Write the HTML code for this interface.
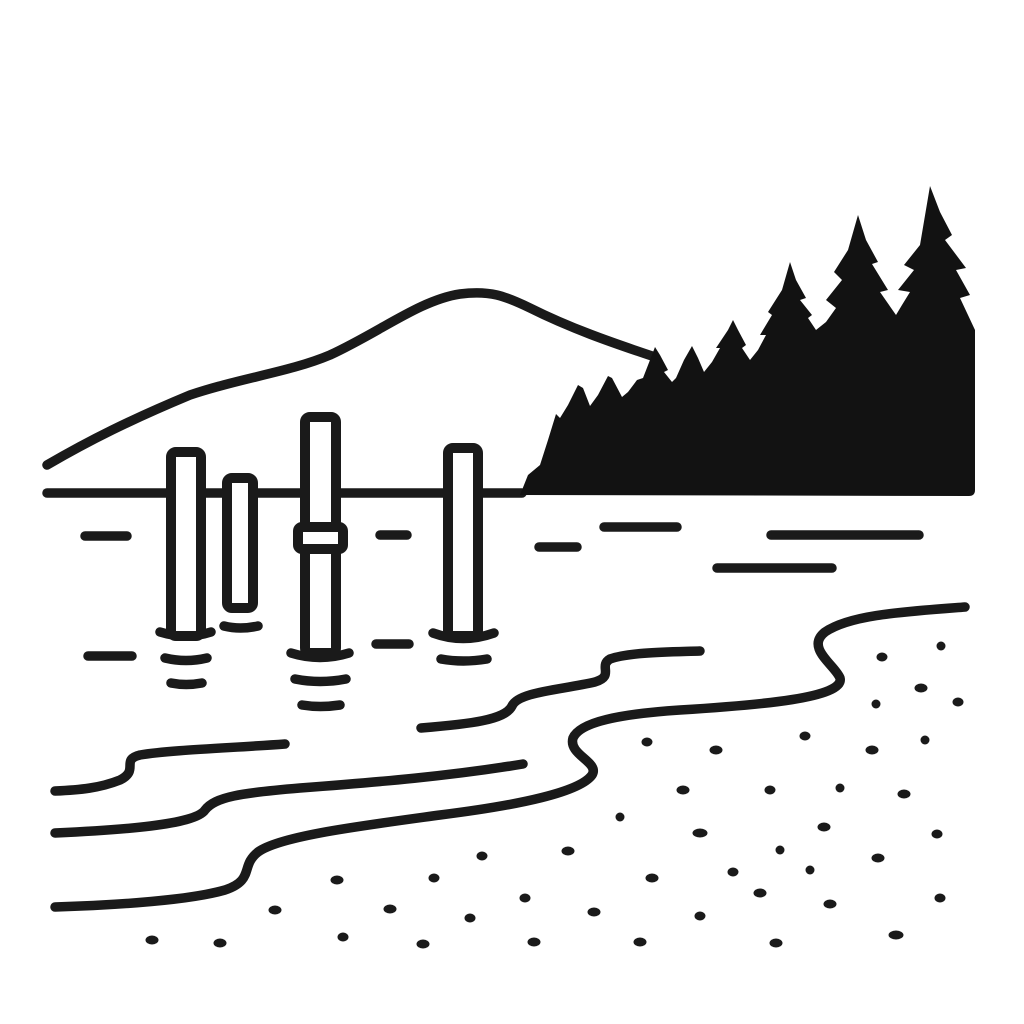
<!DOCTYPE html>
<html><head><meta charset="utf-8"><style>html,body{margin:0;padding:0;background:#fff}svg{display:block}</style></head>
<body>
<svg width="1024" height="1024" viewBox="0 0 1024 1024" xmlns="http://www.w3.org/2000/svg">
<g fill="none" stroke="#1a1a1a" stroke-width="9.5" stroke-linecap="round" stroke-linejoin="round">
<path d="M47,465 C90,440 130,420 190,395 C240,378 290,372 330,355 C380,332 420,300 460,294 C490,290 505,296 530,308 C570,328 610,342 655,357"/>
<path d="M47,493 L522,493"/>
<path d="M85,536 L127,536 M380,535 L407,535 M539,547 L577,547 M604,527 L677,527 M771,535 L919,535 M717,568 L832,568 M88,656 L132,656 M376,644 L409,644"/>
<path d="M160,632 Q186,640 211,632 M165,658 Q186,663 207,658 M171,683 Q186,686 202,683 M224,626 Q240,630 258,626 M291,653 Q320,662 349,653 M295,679 Q320,684 346,679 M302,705 Q320,708 340,705 M433,633 Q463,644 494,633 M441,659 Q463,663 487,659"/>
<path d="M965,607 C900,612 850,615 825,632 C805,648 835,665 840,678 C845,698 760,705 680,710 C620,714 580,722 573,738 C568,755 600,762 592,775 C580,792 520,805 440,815 C360,826 280,836 258,852 C240,866 255,880 225,890 C190,900 120,905 55,907"/>
<path d="M523,764 C450,776 380,782 300,788 C240,793 215,797 205,810 C195,825 120,830 55,833"/>
<path d="M285,744 C230,748 170,750 140,755 C120,760 140,770 120,780 C100,788 80,790 55,791"/>
<path d="M421,728 C470,724 505,720 512,706 C518,692 560,690 595,682 C615,676 598,666 610,659 C630,652 670,652 700,651"/>
</g>
<g fill="#fff" stroke="#1a1a1a" stroke-width="10" stroke-linejoin="round">
<rect x="171" y="452" width="30" height="184" rx="5"/>
<rect x="227" y="478" width="26" height="130" rx="5"/>
<rect x="305" y="417" width="31" height="236" rx="5"/>
<rect x="298" y="527" width="45" height="22" rx="4"/>
<rect x="448" y="448" width="30" height="188" rx="5"/>
</g>
<path fill="#121212" d="
M520,495 L528,475 L540,465 L548,440 L556,414 L560,418 L568,405 L578,385 L583,388 L590,406 L598,395 L608,376 L612,378 L622,397 L628,392 L637,380 L643,378 L650,360 L655,347 L660,355 L668,370 L664,372 L672,382 L676,378 L684,360 L692,346 L698,358 L704,372 L712,362 L720,348 L716,348 L728,330 L733,320 L738,330 L746,345 L742,348 L750,360 L758,350 L766,335 L760,335 L772,315 L768,312 L782,290 L790,262 L796,280 L806,298 L800,300 L812,315 L808,318 L816,330 L826,322 L836,308 L826,300 L842,280 L834,272 L848,250 L858,215 L866,240 L878,262 L872,264 L888,290 L880,292 L896,315 L902,305 L910,292 L898,290 L914,270 L904,265 L920,245 L930,186 L940,212 L952,235 L945,240 L966,268 L956,270 L970,295 L960,298 L975,330 L975,490 Q975,496 969,496 Z"/>
<g fill="#1a1a1a">
<ellipse cx="882" cy="657" rx="5.5" ry="4.5"/><ellipse cx="941" cy="646" rx="4.5" ry="4.5"/>
<ellipse cx="921" cy="688" rx="6.5" ry="4.5"/><ellipse cx="958" cy="702" rx="5.5" ry="4.5"/><ellipse cx="876" cy="704" rx="4.5" ry="4.5"/>
<ellipse cx="647" cy="742" rx="5.5" ry="4.5"/><ellipse cx="716" cy="750" rx="6.5" ry="4.5"/><ellipse cx="805" cy="736" rx="5.5" ry="4.5"/><ellipse cx="872" cy="750" rx="6.5" ry="4.5"/><ellipse cx="925" cy="740" rx="4.5" ry="4.5"/>
<ellipse cx="683" cy="790" rx="6.5" ry="4.5"/><ellipse cx="770" cy="790" rx="5.5" ry="4.5"/><ellipse cx="840" cy="788" rx="4.5" ry="4.5"/><ellipse cx="904" cy="794" rx="6.5" ry="4.5"/>
<ellipse cx="620" cy="817" rx="4.5" ry="4.5"/><ellipse cx="700" cy="833" rx="7.5" ry="4.5"/><ellipse cx="824" cy="827" rx="6.5" ry="4.5"/><ellipse cx="937" cy="834" rx="5.5" ry="4.5"/>
<ellipse cx="568" cy="851" rx="6.5" ry="4.5"/><ellipse cx="482" cy="856" rx="5.5" ry="4.5"/><ellipse cx="780" cy="850" rx="4.5" ry="4.5"/><ellipse cx="878" cy="858" rx="6.5" ry="4.5"/>
<ellipse cx="337" cy="880" rx="6.5" ry="4.5"/><ellipse cx="434" cy="878" rx="5.5" ry="4.5"/><ellipse cx="652" cy="878" rx="6.5" ry="4.5"/><ellipse cx="733" cy="872" rx="5.5" ry="4.5"/><ellipse cx="810" cy="870" rx="4.5" ry="4.5"/>
<ellipse cx="525" cy="898" rx="5.5" ry="4.5"/><ellipse cx="760" cy="893" rx="6.5" ry="4.5"/><ellipse cx="830" cy="904" rx="6.5" ry="4.5"/><ellipse cx="940" cy="898" rx="5.5" ry="4.5"/>
<ellipse cx="275" cy="910" rx="6.5" ry="4.5"/><ellipse cx="390" cy="909" rx="6.5" ry="4.5"/><ellipse cx="470" cy="918" rx="5.5" ry="4.5"/><ellipse cx="594" cy="912" rx="6.5" ry="4.5"/><ellipse cx="700" cy="916" rx="5.5" ry="4.5"/>
<ellipse cx="152" cy="940" rx="6.5" ry="4.5"/><ellipse cx="220" cy="943" rx="6.5" ry="4.5"/><ellipse cx="343" cy="937" rx="5.5" ry="4.5"/><ellipse cx="423" cy="944" rx="6.5" ry="4.5"/><ellipse cx="534" cy="942" rx="6.5" ry="4.5"/><ellipse cx="640" cy="942" rx="6.5" ry="4.5"/><ellipse cx="776" cy="943" rx="6.5" ry="4.5"/><ellipse cx="896" cy="935" rx="7.5" ry="4.5"/>
</g>
</svg>
</body></html>
